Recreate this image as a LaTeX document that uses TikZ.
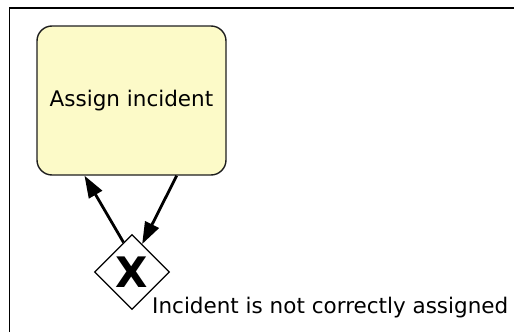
\documentclass[tikz,border=0pt]{standalone}
\usepackage{fontspec}
\setmainfont{DejaVu Sans}
\usepackage{tikz}
\usetikzlibrary{shapes.geometric,arrows.meta,positioning}
\definecolor{taskfill}{RGB}{252,250,200}
\definecolor{edge}{RGB}{30,30,30}
\tikzset{
  task/.style={rectangle,rounded corners=15pt,draw=edge,line width=1.4pt,fill=taskfill,
              minimum width=189pt,minimum height=149pt,align=center,font=\fontsize{21.5}{24}\selectfont},
  gate/.style={diamond,aspect=1,draw=black,line width=1.1pt,fill=white,
              minimum width=75pt,minimum height=75pt,inner sep=0pt},
  flow/.style={-{Triangle[length=22pt,width=15pt]},line width=2.8pt,draw=black},
}
\begin{document}
\begin{tikzpicture}[x=1pt,y=-1pt]
  \useasboundingbox (0,0) rectangle (514,332);
  \draw[line width=1.5pt] (9.5,332) -- (9.5,8) -- (514,8);

  \node[task] (assign) at (131.5,100.5) {Assign incident};
  \node[gate] (xor) at (132,272)
     {\fontsize{42}{42}\selectfont\bfseries X};
  \node[anchor=base west,font=\fontsize{21.5}{24}\selectfont,inner sep=0pt] (cond)
     at (152,313) {Incident is not correctly assigned};

  \draw[flow] (xor.106) -- (assign.238);
  \draw[flow] (assign.301) -- (xor.70);
\end{tikzpicture}
\end{document}
